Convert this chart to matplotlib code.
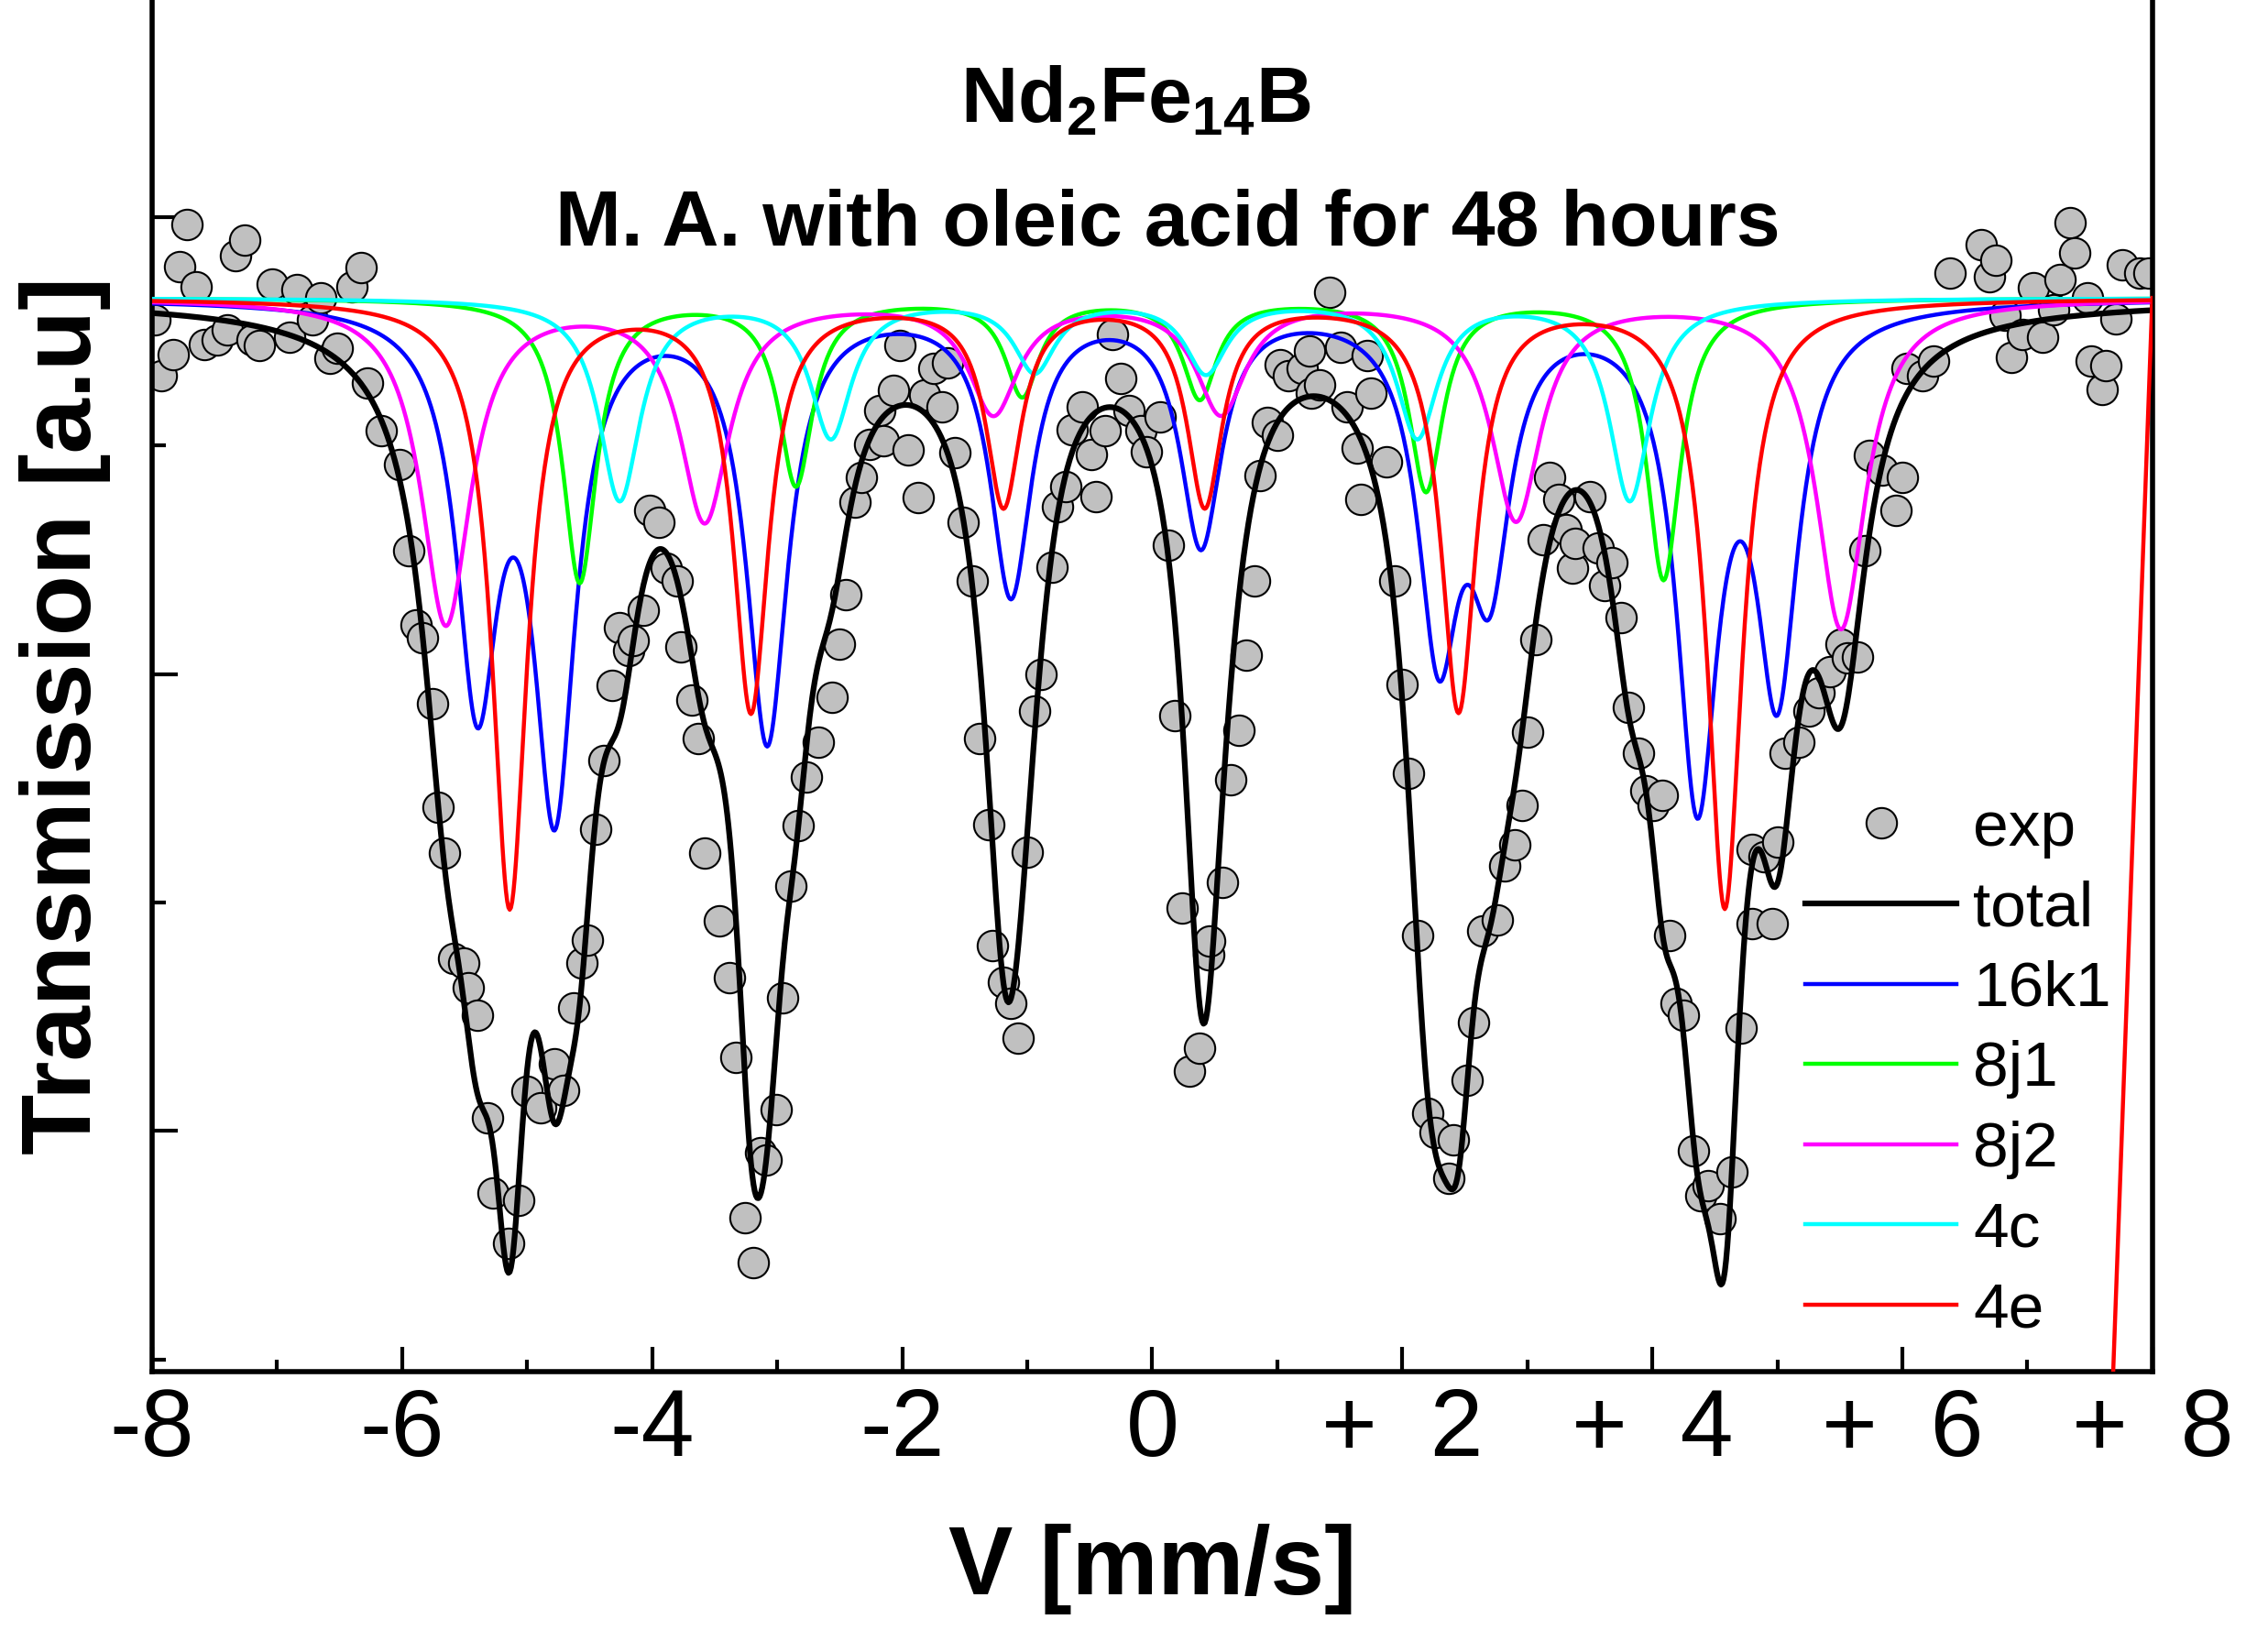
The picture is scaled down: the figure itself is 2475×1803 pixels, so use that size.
import numpy as np
import matplotlib
matplotlib.use("Agg")
import matplotlib.pyplot as plt
from matplotlib.ticker import FixedLocator, FixedFormatter

plt.rcParams['font.family'] = ['Liberation Sans', 'DejaVu Sans']
plt.rcParams['mathtext.fontset'] = 'custom'
plt.rcParams['mathtext.rm'] = 'Liberation Sans'
plt.rcParams['mathtext.bf'] = 'Liberation Sans:bold'

exp_v = [-7.98, -7.93, -7.83, -7.78, -7.72, -7.65, -7.58, -7.48, -7.40, -7.33,
         -7.26, -7.20, -7.14, -7.04, -6.90, -6.84, -6.72, -6.65, -6.58, -6.52,
         -6.40, -6.33, -6.28, -6.17, -6.02, -5.95, -5.89, -5.84, -5.76, -5.71,
         -5.66, -5.59, -5.51, -5.47, -5.40, -5.32, -5.27, -5.15, -5.07, -5.00,
         -4.89, -4.78, -4.71, -4.63, -4.56, -4.52, -4.45, -4.39, -4.32, -4.26,
         -4.19, -4.15, -4.07, -4.02, -3.95, -3.89, -3.80, -3.77, -3.68, -3.63,
         -3.58, -3.46, -3.38, -3.33, -3.26, -3.19, -3.13, -3.09, -3.01, -2.96,
         -2.89, -2.83, -2.77, -2.67, -2.56, -2.50, -2.45, -2.38, -2.33, -2.26,
         -2.18, -2.15, -2.07, -2.02, -1.95, -1.87, -1.82, -1.75, -1.68, -1.64,
         -1.58, -1.51, -1.44, -1.38, -1.31, -1.28, -1.19, -1.13, -1.07, -1.00,
         -0.94, -0.89, -0.80, -0.76, -0.69, -0.64, -0.56, -0.49, -0.45, -0.38,
         -0.32, -0.25, -0.19, -0.09, -0.05, 0.06, 0.13, 0.18, 0.24, 0.30,
         0.38, 0.45, 0.46, 0.56, 0.63, 0.69, 0.75, 0.82, 0.86, 0.92,
         1.00, 1.02, 1.09, 1.20, 1.26, 1.27, 1.34, 1.42, 1.51, 1.56,
         1.64, 1.67, 1.72, 1.75, 1.87, 1.94, 2.00, 2.05, 2.12, 2.20,
         2.26, 2.37, 2.41, 2.52, 2.57, 2.64, 2.76, 2.82, 2.90, 2.96,
         3.00, 3.07, 3.13, 3.18, 3.25, 3.31, 3.36, 3.38, 3.50, 3.57,
         3.62, 3.68, 3.75, 3.81, 3.89, 3.95, 4.01, 4.08, 4.14, 4.19,
         4.25, 4.33, 4.39, 4.45, 4.54, 4.64, 4.71, 4.80, 4.80, 4.89,
         4.96, 5.00, 5.06, 5.17, 5.25, 5.33, 5.42, 5.51, 5.56, 5.64,
         5.70, 5.74, 5.84, 5.95, 6.00, 6.04, 6.16, 6.25, 6.38, 6.63,
         6.70, 6.75, 6.82, 6.87, 6.96, 7.05, 7.12, 7.21, 7.26, 7.34,
         7.38, 7.48, 7.51, 7.60, 7.63, 7.71, 7.76, 7.90, 7.97]
exp_t = [97.75, 96.52, 96.99, 98.92, 99.84, 98.48, 97.22, 97.31, 97.53, 99.15,
         99.49, 97.31, 97.18, 98.54, 97.37, 98.42, 97.75, 98.23, 96.90, 97.12,
         98.48, 98.89, 96.36, 95.32, 94.59, 92.69, 91.08, 90.79, 89.34, 87.09,
         86.08, 83.77, 83.67, 83.13, 82.53, 80.29, 78.64, 77.53, 78.48, 80.86,
         80.51, 81.46, 80.89, 82.69, 83.67, 84.18, 86.61, 88.10, 89.75, 91.01,
         90.51, 90.73, 91.39, 93.58, 93.32, 92.31, 92.03, 90.60, 89.43, 88.58,
         86.08, 84.59, 83.35, 81.61, 78.10, 77.12, 79.53, 79.37, 80.47, 82.91,
         85.35, 86.68, 87.75, 88.51, 89.49, 90.66, 91.74, 93.77, 94.30, 95.03,
         95.76, 95.10, 96.20, 97.18, 94.91, 93.86, 96.11, 96.68, 95.85, 96.80,
         94.84, 93.32, 92.03, 88.58, 86.71, 84.05, 83.26, 82.79, 82.03, 86.11,
         89.18, 90.00, 92.34, 93.67, 94.11, 95.35, 95.85, 94.81, 93.89, 95.32,
         97.44, 96.46, 95.76, 95.32, 94.87, 95.63, 92.82, 89.08, 84.87, 81.30,
         81.80, 83.86, 84.15, 85.44, 87.69, 88.77, 90.41, 92.03, 94.34, 95.51,
         95.22, 96.77, 96.52, 96.68, 97.06, 96.14, 96.33, 98.35, 97.15, 95.85,
         94.94, 93.83, 96.96, 96.14, 94.65, 92.03, 89.78, 87.82, 84.27, 80.38,
         79.97, 78.96, 79.81, 81.11, 82.37, 84.37, 84.62, 85.79, 86.27, 87.12,
         88.73, 90.76, 92.94, 94.30, 93.83, 93.16, 92.31, 92.85, 93.89, 92.75,
         91.93, 92.44, 91.23, 89.27, 88.26, 87.44, 87.12, 87.34, 84.27, 82.79,
         82.53, 79.56, 78.58, 78.80, 78.07, 79.11, 82.25, 84.53, 86.17, 86.01,
         84.53, 86.33, 88.26, 88.51, 89.18, 89.59, 90.06, 90.66, 90.35, 90.38,
         92.69, 94.78, 94.46, 93.58, 94.30, 96.68, 96.52, 96.84, 98.77, 99.40,
         98.70, 99.05, 97.85, 96.93, 97.44, 98.45, 97.37, 97.97, 98.64, 99.87,
         99.21, 98.23, 96.84, 96.23, 96.74, 97.78, 98.96, 98.77, 98.77]

baseline = 98.23

# fitted sub-spectra: line positions (mm/s), line depths, half width at half maximum
k16_pos = [-5.40, -4.78, -3.08, -1.13, 0.39, 2.29, 2.70, 4.36, 5.00]
k16_depth = [8.3, 10.7, 9.5, 6.3, 5.2, 7.1, 5.35, 10.5, 8.1]
k16_hw = 0.20

j81_pos = [-4.58, -2.85, -1.04, 0.38, 2.19, 4.09]
j81_depth = [6.2, 4.05, 2.09, 2.15, 4.18, 6.14]
j81_hw = 0.165

j82_pos = [-5.65, -3.58, -1.27, 0.55, 2.91, 5.51]
j82_depth = [7.1, 4.8, 2.45, 2.45, 4.8, 7.2]
j82_hw = 0.24

c4_pos = [-4.26, -2.57, -0.94, 0.43, 2.12, 3.82]
c4_depth = [4.4, 3.0, 1.55, 1.58, 3.0, 4.4]
c4_hw = 0.20

e4_pos = [-5.14, -3.21, -1.19, 0.42, 2.45, 4.58]
e4_depth = [13.3, 8.95, 4.45, 4.45, 8.95, 13.3]
e4_hw = 0.17

# stray end segment of the 4e curve at the right edge
e4_tail_v = [8.0, 7.5]
e4_tail_t = [98.23, 60.7]

xtick_vals = [-8, -6, -4, -2, 0, 2, 4, 6, 8]
xtick_labels = ['-8', '-6', '-4', '-2', '0', '+  2', '+  4', '+  6', '+  8']


def sextet(pos, depth, hw, v):
    dip = np.zeros_like(v)
    for p, d in zip(pos, depth):
        dip += d / (1 + ((v - p) / hw) ** 2)
    return dip


v = np.linspace(-8, 8, 1601)
d16 = sextet(k16_pos, k16_depth, k16_hw, v)
d81 = sextet(j81_pos, j81_depth, j81_hw, v)
d82 = sextet(j82_pos, j82_depth, j82_hw, v)
d4c = sextet(c4_pos, c4_depth, c4_hw, v)
d4e = sextet(e4_pos, e4_depth, e4_hw, v)
total = baseline - (d16 + d81 + d82 + d4c + d4e)

fig = plt.figure(figsize=(24.75, 18.03), dpi=100)
ax = fig.add_axes([0.0671, 0.1697, 0.8819, 0.8303])

h_exp, = ax.plot(exp_v, exp_t, 'o', ms=24, mfc='#c0c0c0', mec='black',
                 mew=1.5, ls='none', zorder=2)
h_tot, = ax.plot(v, total, color='black', lw=4.5, zorder=3)
h16, = ax.plot(v, baseline - d16, color='#0000ff', lw=3.2, zorder=3)
h81, = ax.plot(v, baseline - d81, color='#00ff00', lw=3.2, zorder=3)
h82, = ax.plot(v, baseline - d82, color='#ff00ff', lw=3.2, zorder=3)
h4c, = ax.plot(v, baseline - d4c, color='#00ffff', lw=3.2, zorder=3)
h4e, = ax.plot(v, baseline - d4e, color='#ff0000', lw=3.2, zorder=3)
ax.plot(e4_tail_v, e4_tail_t, color='#ff0000', lw=3.2, zorder=3)

ax.set_xlim(-8, 8)
ax.set_ylim(74.73, 104.75)

for side in ['left', 'bottom', 'right']:
    ax.spines[side].set_linewidth(4)
ax.spines['top'].set_visible(False)

ax.xaxis.set_major_locator(FixedLocator(xtick_vals))
ax.xaxis.set_major_formatter(FixedFormatter(xtick_labels))
ax.xaxis.set_minor_locator(FixedLocator(list(range(-7, 8, 2))))
ax.yaxis.set_major_locator(FixedLocator([80, 90, 100]))
ax.yaxis.set_minor_locator(FixedLocator([75, 85, 95]))

ax.tick_params(axis='x', which='major', direction='in', length=19.5, width=3,
               labelsize=75, pad=12, top=False)
ax.tick_params(axis='x', which='minor', direction='in', length=9.5, width=3, top=False)
ax.tick_params(axis='y', which='major', direction='in', length=20, width=3,
               labelleft=False, right=False)
ax.tick_params(axis='y', which='minor', direction='in', length=11, width=3, right=False)

fig.text(0.5006, 0.9257, r'Nd$_{\mathbf{2}}$Fe$_{\mathbf{14}}$B', fontsize=62,
         fontweight='bold', ha='center', va='baseline')
fig.text(0.515, 0.8514, 'M. A. with oleic acid for 48 hours', fontsize=62,
         fontweight='bold', ha='center', va='baseline')
fig.text(0.508, 0.05, 'V [mm/s]', fontsize=76, fontweight='bold',
         ha='center', va='center')
fig.text(0.0287, 0.567, 'Transmission [a.u]', fontsize=78, fontweight='bold',
         rotation=90, ha='center', va='center')

ax.legend([h_exp, h_tot, h16, h81, h82, h4c, h4e],
          ['exp', 'total', '16k1', '8j1', '8j2', '4c', '4e'],
          loc='upper left', bbox_to_anchor=(0.796, 0.516),
          bbox_transform=fig.transFigure, frameon=False, fontsize=50,
          handlelength=2.38, handletextpad=0.26, labelspacing=0.34,
          borderpad=0, borderaxespad=0)

fig.savefig('out.png', dpi=100)
